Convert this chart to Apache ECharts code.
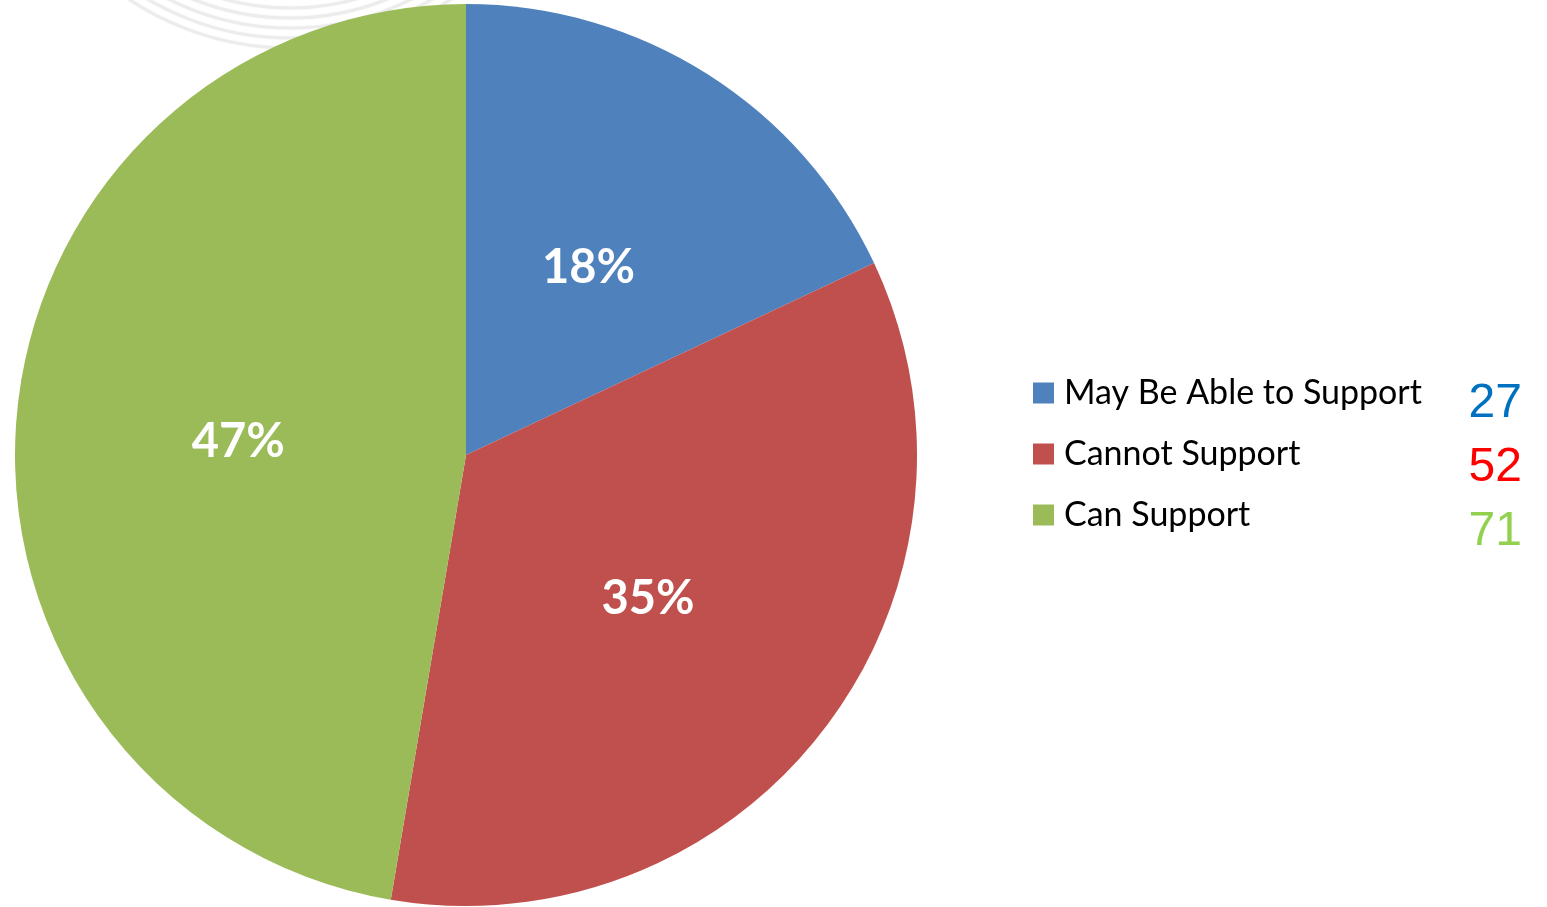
<!DOCTYPE html>
<html>
<head>
<meta charset="utf-8">
<script src="https://cdn.jsdelivr.net/npm/echarts@6/dist/echarts.min.js"></script>
<style>
  html, body { margin: 0; padding: 0; background: #ffffff; }
  #chart { width: 1547px; height: 907px; }
</style>
</head>
<body>
<div id="chart"></div>
<script>
// Support categories and respondent counts
const categories = ['May Be Able to Support', 'Cannot Support', 'Can Support'];
const counts = [27, 52, 71];
const sliceColors = ['#4F81BD', '#C0504D', '#9BBB59'];
const countColors = ['#0070C0', '#FF0000', '#92D050'];

const chart = echarts.init(document.getElementById('chart'));

// Faint decorative rings in the upper-left background
const rings = [250, 260, 270, 280, 290].map(function (r) {
  return {
    type: 'circle',
    z: -10,
    shape: { cx: 290, cy: -242, r: r },
    style: { fill: 'none', stroke: '#ececec', lineWidth: 3, shadowBlur: 2, shadowColor: '#f2f2f2' }
  };
});

// Count column next to the legend
const countTexts = counts.map(function (v, i) {
  return {
    type: 'text',
    right: 25,
    top: 380 + i * 64,
    style: {
      text: String(v),
      fill: countColors[i],
      font: '48px "Liberation Sans", Arial, sans-serif',
      textAlign: 'right'
    }
  };
});

chart.setOption({
  animation: false,
  backgroundColor: '#ffffff',
  color: sliceColors,
  graphic: rings.concat(countTexts),
  legend: {
    orient: 'vertical',
    left: 1028,
    top: 366,
    itemWidth: 21,
    itemHeight: 21,
    itemGap: 17,
    icon: 'rect',
    data: categories,
    textStyle: {
      fontFamily: 'Lato, "Open Sans", sans-serif',
      fontSize: 34,
      lineHeight: 40,
      color: '#000000',
      padding: [4, 0, 0, 5]
    }
  },
  series: [{
    type: 'pie',
    center: [466, 455],
    radius: [0, 451],
    startAngle: 90,
    clockwise: true,
    silent: true,
    itemStyle: { borderWidth: 0 },
    label: {
      show: true,
      position: 'inside',
      offset: [0, 6],
      formatter: function (p) { return Math.round(p.percent) + '%'; },
      color: '#ffffff',
      fontFamily: 'Lato, "Open Sans", sans-serif',
      fontWeight: 'bold',
      fontSize: 47
    },
    labelLine: { show: false },
    data: categories.map(function (name, i) {
      return { name: name, value: counts[i] };
    })
  }]
});
</script>
</body>
</html>
